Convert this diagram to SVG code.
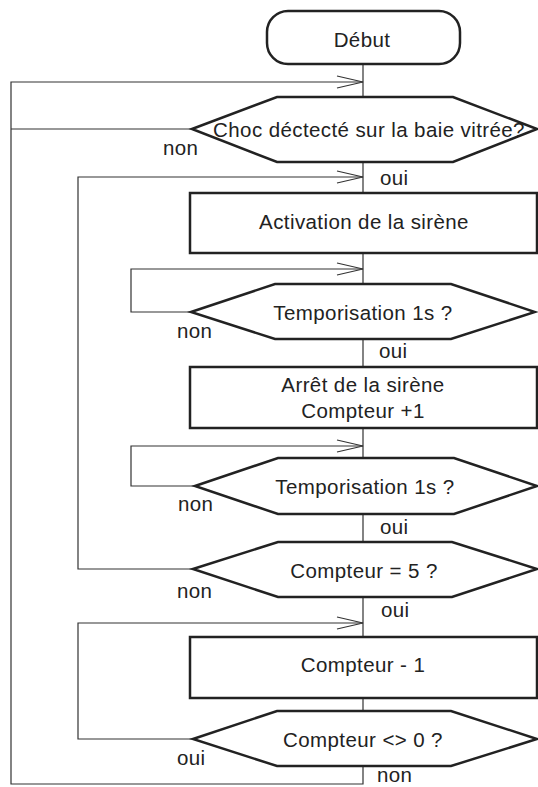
<svg xmlns="http://www.w3.org/2000/svg" width="538" height="787" viewBox="0 0 538 787">
<defs>
<style>
.shape{fill:#fff;stroke:#222;stroke-width:2.5;stroke-linejoin:miter}
.conn{fill:none;stroke:#333;stroke-width:1.2}
text{font-family:"Liberation Sans",Arial,sans-serif;font-size:20.5px;letter-spacing:0.4px;fill:#222}
.c{text-anchor:middle}
</style>
<marker id="arr" markerUnits="userSpaceOnUse" markerWidth="30" markerHeight="16" viewBox="-27 -8 30 16" refX="0" refY="0" orient="auto">
<path d="M-26,-6 L0,0 L-26,6" fill="none" stroke="#333" stroke-width="1.2"/>
</marker>
</defs>
<rect width="538" height="787" fill="#fff"/>
<g id="connectors">
<path class="conn" d="M363,64 V97 M363,162 V193 M363,253 V284 M363,339 V367 M363,428 V458 M363,514 V542 M363,597 V637 M363,698 V711"/>
<path class="conn" d="M192,129 H11"/>
<path class="conn" d="M363,766 V784 H11 V82 H363" marker-end="url(#arr)"/>
<path class="conn" d="M193,569 H78 V177 H363" marker-end="url(#arr)"/>
<path class="conn" d="M191,312 H131 V269 H363" marker-end="url(#arr)"/>
<path class="conn" d="M195,486 H131 V446 H363" marker-end="url(#arr)"/>
<path class="conn" d="M193,739 H78 V623 H363" marker-end="url(#arr)"/>
<text x="163" y="155">non</text>
<text x="380" y="185">oui</text>
<text x="177" y="338">non</text>
<text x="379" y="358">oui</text>
<text x="178" y="511">non</text>
<text x="380" y="534">oui</text>
<text x="177" y="598">non</text>
<text x="381" y="617">oui</text>
<text x="177" y="765">oui</text>
<text x="377" y="782">non</text>
</g>
<g id="debut">
<rect class="shape" x="267" y="11" width="193" height="53" rx="21" ry="21"/>
<text class="c" x="362" y="47">Début</text>
</g>
<g id="choc">
<polygon class="shape" points="192,129 277,97 453,97 537,129 453,162 277,162"/>
<text class="c" x="369" y="137">Choc déctecté sur la baie vitrée?</text>
</g>
<g id="activation">
<rect class="shape" x="190" y="193" width="347" height="60"/>
<text class="c" x="364" y="229">Activation de la sirène</text>
</g>
<g id="tempo1">
<polygon class="shape" points="191,312 275,284 451,284 535,312 451,339 275,339"/>
<text class="c" x="363" y="320">Temporisation 1s ?</text>
</g>
<g id="arret">
<rect class="shape" x="190" y="367" width="347" height="61"/>
<text class="c" x="363" y="392">Arrêt de la sirène</text>
<text class="c" x="363" y="418">Compteur +1</text>
</g>
<g id="tempo2">
<polygon class="shape" points="195,486 278,458 454,458 537,486 454,514 278,514"/>
<text class="c" x="365" y="494">Temporisation 1s ?</text>
</g>
<g id="cpt5">
<polygon class="shape" points="193,569 278,542 452,542 537,569 452,597 278,597"/>
<text class="c" x="364" y="578">Compteur = 5 ?</text>
</g>
<g id="cptmoins">
<rect class="shape" x="190" y="637" width="347" height="61"/>
<text class="c" x="363" y="672">Compteur - 1</text>
</g>
<g id="cpt0">
<polygon class="shape" points="193,739 277,711 451,711 537,739 451,766 277,766"/>
<text class="c" x="363" y="747">Compteur &lt;&gt; 0 ?</text>
</g>
</svg>
